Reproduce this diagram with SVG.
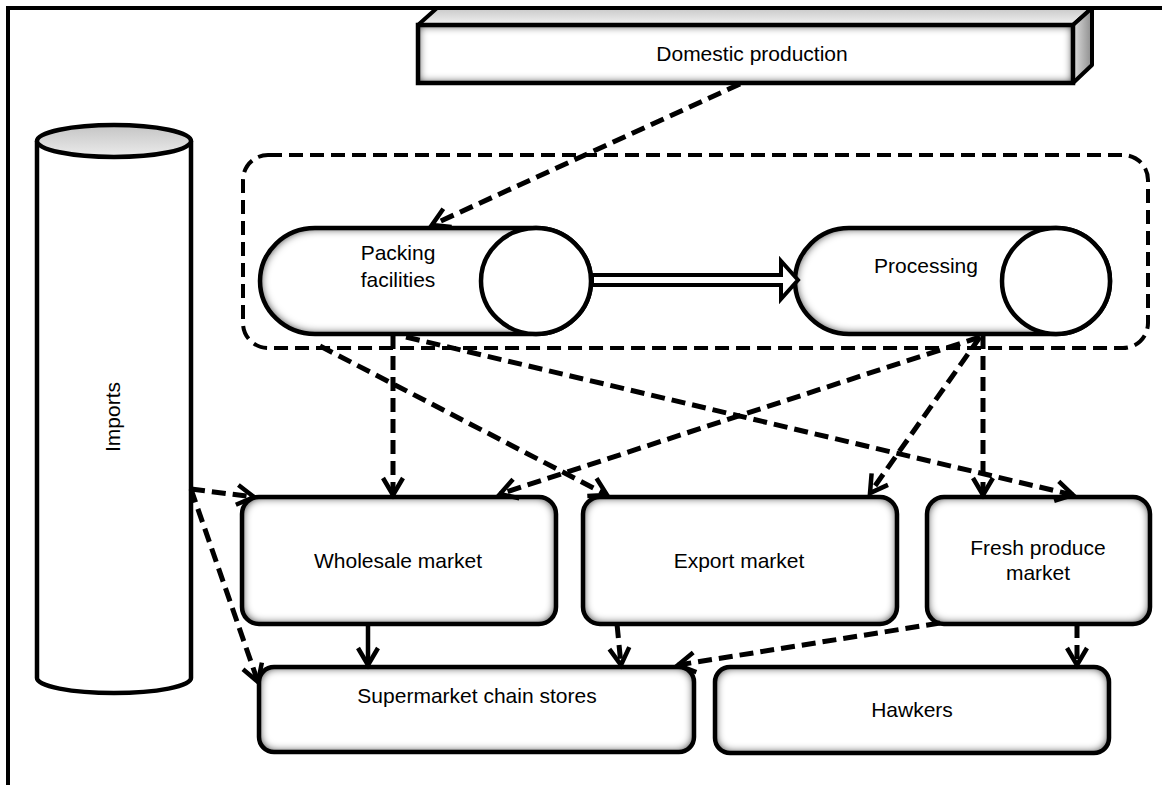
<svg xmlns="http://www.w3.org/2000/svg" width="1162" height="785" viewBox="0 0 1162 785">
<style>
  .lbl{font-family:"Liberation Sans",Arial,Helvetica,sans-serif;font-size:21px;fill:#000;text-anchor:middle}
  .node{fill:#fff;stroke:#000;stroke-width:4.5}
  .plain{fill:#fff;stroke:#000;stroke-width:4.5}
  .dash{fill:none;stroke:#000;stroke-width:5;stroke-dasharray:14 7;marker-end:url(#arr)}
  .solid{fill:none;stroke:#000;stroke-width:4.5;marker-end:url(#arr)}
  .frame{fill:none;stroke:#000;stroke-width:4}
</style>
<defs>
  <filter id="inset" x="-10%" y="-20%" width="120%" height="140%" color-interpolation-filters="sRGB">
    <feMorphology in="SourceAlpha" operator="erode" radius="2.2" result="e"/>
    <feFlood flood-color="#000" flood-opacity="1" result="f"/>
    <feComposite in="f" in2="e" operator="out" result="o"/>
    <feGaussianBlur in="o" stdDeviation="5" result="b"/>
    <feComposite in="b" in2="e" operator="in" result="s"/>
    <feMerge><feMergeNode in="SourceGraphic"/><feMergeNode in="s"/></feMerge>
  </filter>
  <linearGradient id="topFace" x1="0" y1="0" x2="0" y2="1">
    <stop offset="0" stop-color="#c8c8c8"/><stop offset="1" stop-color="#f2f2f2"/>
  </linearGradient>
  <linearGradient id="sideFace" x1="0" y1="0" x2="1" y2="0">
    <stop offset="0" stop-color="#e0e0e0"/><stop offset="1" stop-color="#8c8c8c"/>
  </linearGradient>
  <linearGradient id="capFace" x1="0" y1="0" x2="0" y2="1">
    <stop offset="0" stop-color="#c4c4c4"/><stop offset="1" stop-color="#ececec"/>
  </linearGradient>
  <marker id="arr" markerUnits="userSpaceOnUse" markerWidth="40" markerHeight="40" viewBox="-20 -20 40 40" refX="0" refY="0" orient="auto" overflow="visible">
    <path d="M-17,-10 L0,0 L-17,10" fill="none" stroke="#000" stroke-width="4.5" stroke-dasharray="none" stroke-linejoin="miter"/>
  </marker>
</defs>

<path class="frame" d="M8,785 L8,8 L1162,8"/>

<g id="domestic-production">
  <polygon points="418,25 437,8 1092,8 1073,25" fill="url(#topFace)" stroke="#000" stroke-width="4" stroke-linejoin="round"/>
  <polygon points="1073,25 1092,8 1092,65 1073,83" fill="url(#sideFace)" stroke="#000" stroke-width="4" stroke-linejoin="round"/>
  <rect class="node" x="418" y="25" width="655" height="58" filter="url(#inset)"/>
  <text class="lbl" x="752" y="61">Domestic production</text>
</g>

<g id="imports">
  <path class="plain" d="M37,141 L37,678 A77,15 0 0 0 191,678 L191,141"/>
  <ellipse cx="114" cy="141" rx="77" ry="16" fill="url(#capFace)" stroke="#000" stroke-width="4.5"/>
  <text class="lbl" transform="translate(120,417) rotate(-90)" x="0" y="0">Imports</text>
</g>

<g id="processing-group">
  <rect x="243" y="155" width="905" height="193" rx="25" ry="25" fill="none" stroke="#000" stroke-width="4" stroke-dasharray="14 7"/>
</g>

<g id="packing-facilities">
  <path class="node" filter="url(#inset)" d="M315,228 L536,228 A55,53 0 0 1 536,334 L315,334 A55,53 0 0 1 315,228 Z"/>
  <ellipse cx="536" cy="281" rx="55" ry="53" fill="#fff" stroke="#000" stroke-width="4.5"/>
  <text class="lbl" x="398" y="260">Packing</text>
  <text class="lbl" x="398" y="287">facilities</text>
</g>

<g id="processing">
  <path class="node" filter="url(#inset)" d="M849,228 L1056,228 A54,53 0 0 1 1056,334 L849,334 A54,53 0 0 1 849,228 Z"/>
  <ellipse cx="1056" cy="281" rx="54" ry="53" fill="#fff" stroke="#000" stroke-width="4.5"/>
  <text class="lbl" x="926" y="273">Processing</text>
</g>

<g id="wholesale-market">
  <rect class="node" filter="url(#inset)" x="242" y="497" width="314" height="127" rx="17"/>
  <text class="lbl" x="398" y="568">Wholesale market</text>
</g>

<g id="export-market">
  <rect class="node" filter="url(#inset)" x="583" y="497" width="314" height="127" rx="17"/>
  <text class="lbl" x="739" y="568">Export market</text>
</g>

<g id="fresh-produce-market">
  <rect class="node" filter="url(#inset)" x="927" y="497" width="223" height="127" rx="17"/>
  <text class="lbl" x="1038" y="555">Fresh produce</text>
  <text class="lbl" x="1038" y="580">market</text>
</g>

<g id="supermarket-chain-stores">
  <rect class="node" filter="url(#inset)" x="259" y="667" width="435" height="85" rx="15"/>
  <text class="lbl" x="477" y="703">Supermarket chain stores</text>
</g>

<g id="hawkers">
  <rect class="node" filter="url(#inset)" x="715" y="667" width="394" height="86" rx="15"/>
  <text class="lbl" x="912" y="717">Hawkers</text>
</g>

<g id="connectors">
  <path class="dash" d="M740,84 L432,225"/>
  <path d="M592,275 L781,275 L781,261 L798,280 L781,299 L781,285 L592,285 Z" fill="#fff" stroke="#000" stroke-width="4" stroke-linejoin="miter"/>
  <path class="dash" d="M393,335 L393,495"/>
  <path class="dash" d="M320,346 L607,495"/>
  <path class="dash" d="M406,337 L1073,495"/>
  <path class="dash" d="M980,337 L500,494"/>
  <path class="dash" d="M980,337 L870,493"/>
  <path class="dash" d="M983,335 L983,495"/>
  <path class="dash" d="M191,489 L254,497"/>
  <path class="dash" d="M191,489 L258,682"/>
  <path class="solid" d="M368,624 L368,665"/>
  <path class="dash" d="M617,624 L621,665"/>
  <path class="dash" d="M940,623 L678,665"/>
  <path class="dash" d="M1077,624 L1077,665"/>
</g>
</svg>
